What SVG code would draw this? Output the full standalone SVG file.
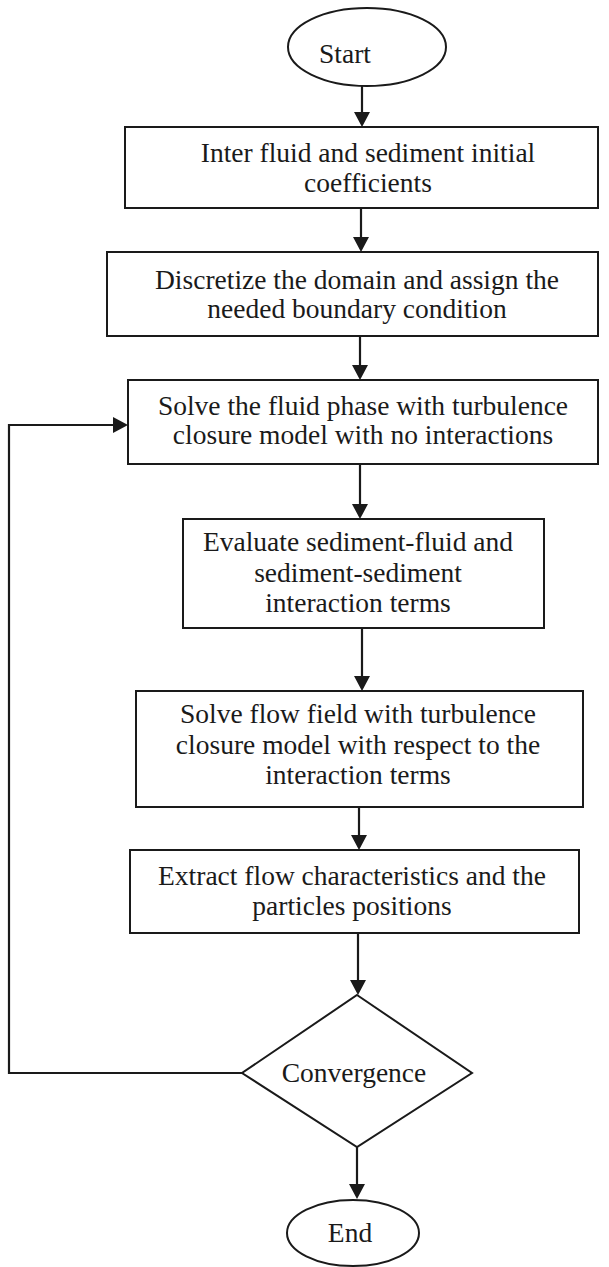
<svg xmlns="http://www.w3.org/2000/svg" width="609" height="1267" viewBox="0 0 609 1267">
<defs>
<marker id="ah" markerUnits="userSpaceOnUse" markerWidth="16" markerHeight="16" refX="12" refY="8" orient="auto">
<path d="M0,0 L15,8 L0,16 z" fill="#1a1a1a"/>
</marker>
<style>
.box{fill:#fff;stroke:#1a1a1a;stroke-width:2}
.t{font-family:"Liberation Serif","Times New Roman",serif;font-size:27.5px;fill:#1a1a1a;text-anchor:middle}
.c{fill:none;stroke:#1a1a1a;stroke-width:2.2;marker-end:url(#ah)}
</style>
</defs>
<rect width="609" height="1267" fill="#fff"/>
<g id="connectors">
<line class="c" x1="362" y1="86" x2="362" y2="124"/>
<line class="c" x1="361" y1="208" x2="361" y2="249"/>
<line class="c" x1="360" y1="336" x2="360" y2="377"/>
<line class="c" x1="360" y1="464" x2="360" y2="516"/>
<line class="c" x1="362" y1="628" x2="362" y2="688"/>
<line class="c" x1="359" y1="807" x2="359" y2="847"/>
<line class="c" x1="358" y1="933" x2="358" y2="992"/>
<line class="c" x1="357" y1="1147" x2="357" y2="1196"/>
<polyline class="c" points="242,1073 9,1073 9,425 125,425"/>
</g>
<g id="start">
<ellipse class="box" cx="367" cy="47" rx="79" ry="39"/>
<text class="t" x="345" y="63">Start</text>
</g>
<g id="box1">
<rect class="box" x="125" y="127" width="473" height="81"/>
<text class="t" x="368" y="162">Inter fluid and sediment initial</text>
<text class="t" x="368" y="192">coefficients</text>
</g>
<g id="box2">
<rect class="box" x="107" y="252" width="491" height="84"/>
<text class="t" x="357" y="289">Discretize the domain and assign the</text>
<text class="t" x="357" y="318">needed boundary condition</text>
</g>
<g id="box3">
<rect class="box" x="128" y="380" width="470" height="84"/>
<text class="t" x="363" y="415">Solve the fluid phase with turbulence</text>
<text class="t" x="363" y="444">closure model with no interactions</text>
</g>
<g id="box4">
<rect class="box" x="183" y="519" width="361" height="109"/>
<text class="t" x="358" y="551">Evaluate sediment-fluid and</text>
<text class="t" x="358" y="582">sediment-sediment</text>
<text class="t" x="358" y="612">interaction terms</text>
</g>
<g id="box5">
<rect class="box" x="136" y="691" width="447" height="116"/>
<text class="t" x="358" y="723">Solve flow field with turbulence</text>
<text class="t" x="358" y="754">closure model with respect to the</text>
<text class="t" x="358" y="784">interaction terms</text>
</g>
<g id="box6">
<rect class="box" x="130" y="850" width="449" height="83"/>
<text class="t" x="352" y="885">Extract flow characteristics and the</text>
<text class="t" x="352" y="915">particles positions</text>
</g>
<g id="decision">
<polygon class="box" points="357,995 472,1073 357,1147 242,1073"/>
<text class="t" x="354" y="1082">Convergence</text>
</g>
<g id="end">
<ellipse class="box" cx="353" cy="1233" rx="66" ry="33"/>
<text class="t" x="350" y="1242">End</text>
</g>
</svg>
